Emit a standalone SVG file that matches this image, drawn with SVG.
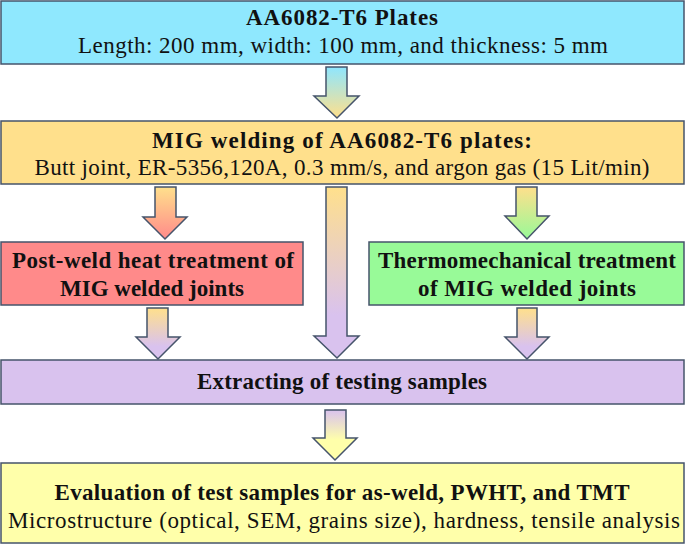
<svg xmlns="http://www.w3.org/2000/svg" width="685" height="545" viewBox="0 0 685 545">
<defs>
<style>
.box{stroke:#46546B;stroke-width:1.5}
.arr{stroke:#46546B;stroke-width:1.5;stroke-linejoin:miter}
.b{font-weight:bold}
</style>
<linearGradient id="gBY" x1="0" y1="0" x2="0" y2="1"><stop offset="0" stop-color="#8FE6FE"/><stop offset="1" stop-color="#FFE08C"/></linearGradient>
<linearGradient id="gYR" x1="0" y1="0" x2="0" y2="1"><stop offset="0" stop-color="#FFE08C"/><stop offset="1" stop-color="#FF8A8A"/></linearGradient>
<linearGradient id="gYG" x1="0" y1="0" x2="0" y2="1"><stop offset="0" stop-color="#FFE08C"/><stop offset="1" stop-color="#98FA98"/></linearGradient>
<linearGradient id="gYP" x1="0" y1="0" x2="0" y2="1"><stop offset="0" stop-color="#FFE08C"/><stop offset="0.75" stop-color="#D9C2EE"/><stop offset="1" stop-color="#D9C2EE"/></linearGradient>
<linearGradient id="gPY" x1="0" y1="0" x2="0" y2="1"><stop offset="0" stop-color="#D9C2EE"/><stop offset="0.6" stop-color="#FFFFAA"/><stop offset="1" stop-color="#FFFFAA"/></linearGradient>
</defs>
<g id="connectors">
<path class="arr" fill="url(#gBY)" d="M326,67 H347 V96 H359 L337,118 L314,96 H326 Z"/>
<path class="arr" fill="url(#gYR)" d="M155,187 H176 V217 H187 L165,239 L143,217 H155 Z"/>
<path class="arr" fill="url(#gYP)" d="M326,187 H347 V336 H359 L337,358 L314,336 H326 Z"/>
<path class="arr" fill="url(#gYG)" d="M516,187 H537 V216 H549 L527,239 L505,216 H516 Z"/>
<path class="arr" fill="url(#gYP)" d="M147,308 H168 V337 H180 L158,359 L136,337 H147 Z"/>
<path class="arr" fill="url(#gYP)" d="M517,308 H537 V337 H549 L527,359 L505,337 H517 Z"/>
<path class="arr" fill="url(#gPY)" d="M325,410 H346 V438 H357 L335,460 L313,438 H325 Z"/>
</g>
<g font-family="Liberation Serif, serif" font-size="23" fill="#111" text-anchor="middle">
<g id="plates">
<rect class="box" x="1" y="1" width="683" height="63" fill="#8FE8FE"/>
<text class="b" x="342" y="25" textLength="192" lengthAdjust="spacing">AA6082-T6 Plates</text>
<text x="343" y="53" textLength="530" lengthAdjust="spacing">Length: 200 mm, width: 100 mm, and thickness: 5 mm</text>
</g>
<g id="mig">
<rect class="box" x="1" y="121" width="683" height="63" fill="#FFE08C"/>
<text class="b" x="342" y="148" textLength="380" lengthAdjust="spacing">MIG welding of AA6082-T6 plates:</text>
<text x="342" y="175" textLength="615" lengthAdjust="spacing">Butt joint, ER-5356,120A, 0.3 mm/s, and argon gas (15 Lit/min)</text>
</g>
<g id="pwht">
<rect class="box" x="1" y="242" width="302" height="63" fill="#FF8A8A"/>
<text class="b" x="153" y="268" textLength="282" lengthAdjust="spacing">Post-weld heat treatment of</text>
<text class="b" x="152" y="296" textLength="184" lengthAdjust="spacing">MIG welded joints</text>
</g>
<g id="tmt">
<rect class="box" x="369" y="242" width="315" height="63" fill="#98FA98"/>
<text class="b" x="527" y="268" textLength="298" lengthAdjust="spacing">Thermomechanical treatment</text>
<text class="b" x="527" y="296" textLength="218" lengthAdjust="spacing">of MIG welded joints</text>
</g>
<g id="extract">
<rect class="box" x="1" y="360" width="683" height="44" fill="#D9C2EE"/>
<text class="b" x="342" y="389" textLength="290" lengthAdjust="spacing">Extracting of testing samples</text>
</g>
<g id="evaluation">
<rect class="box" x="1" y="463" width="683" height="80" fill="#FFFFAA"/>
<text class="b" x="342" y="500" textLength="575" lengthAdjust="spacing">Evaluation of test samples for as-weld, PWHT, and TMT</text>
<text x="344" y="528" textLength="672" lengthAdjust="spacing">Microstructure (optical, SEM, grains size), hardness, tensile analysis</text>
</g>
</g>
</svg>
